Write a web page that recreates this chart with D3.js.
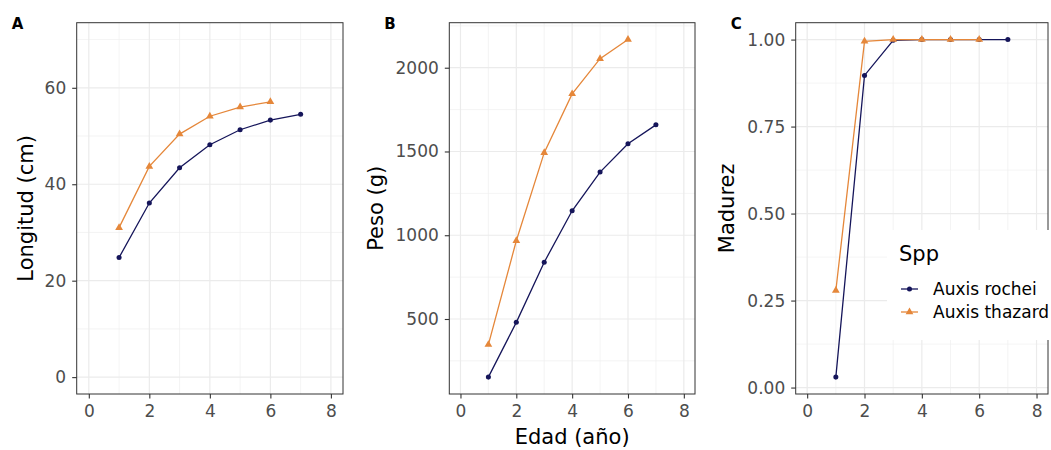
<!DOCTYPE html>
<html>
  <head>
    <meta charset="utf-8">
    <title>Edad, longitud, peso y madurez de Auxis</title>
    <script src="https://d3js.org/d3.v7.min.js"></script>
    <style>
      body { margin: 0; background: #fff; }
      text { font-family: "DejaVu Sans", sans-serif; }
    </style>
  </head>
  <body>
    <script>
        // data
        var species = ["Auxis rochei", "Auxis thazard"]
        var colors = ["#15155a", "#e5873a"]
        var agesRochei = [1, 2, 3, 4, 5, 6, 7]
        var agesThazard = [1, 2, 3, 4, 5, 6]
        var lenRochei = [24.8, 36.1, 43.4, 48.2, 51.3, 53.3, 54.5]
        var lenThazard = [31.0, 43.7, 50.4, 54.1, 56.0, 57.1]
        var wtRochei = [153, 480, 839, 1146, 1377, 1546, 1659]
        var wtThazard = [347, 967, 1493, 1844, 2054, 2168]
        var matRochei = [0.03, 0.897, 0.998, 1, 1, 1, 1]
        var matThazard = [0.279, 0.995, 1, 1, 1, 1]
        var xTicks = [0, 2, 4, 6, 8]
        var xMinor = [1, 3, 5, 7]

        var width = 1051, height = 450
        var plotTop = 22.7, plotBottom = 394

        var svg = d3.select("body").append("svg")
            .attr("width", width)
            .attr("height", height)

        var panels = [
          {label: "A", left: 76.7, right: 343, title: "Longitud (cm)", titleX: 33,
           y: [lenRochei, lenThazard], limits: [0, 70],
           ticks: [0, 20, 40, 60], minor: [10, 30, 50, 70], fmt: d3.format("d")},
          {label: "B", left: 449.3, right: 695, title: "Peso (g)", titleX: 382.5,
           y: [wtRochei, wtThazard], limits: null,
           ticks: [500, 1000, 1500, 2000], minor: [250, 750, 1250, 1750, 2250], fmt: d3.format("d")},
          {label: "C", left: 795.7, right: 1048, title: "Madurez", titleX: 734,
           y: [matRochei, matThazard], limits: null,
           ticks: [0, 0.25, 0.5, 0.75, 1], minor: [0.125, 0.375, 0.625, 0.875], fmt: d3.format(".2f")}
        ]
        var ages = [agesRochei, agesThazard]

        panels.forEach(function(p) {
          var lim = p.limits || d3.extent(d3.merge(p.y))
          var pad = (lim[1] - lim[0]) * 0.05
          var y = d3.scaleLinear().domain([lim[0] - pad, lim[1] + pad]).range([plotBottom, plotTop])
          var x = d3.scaleLinear().domain([-0.4, 8.4]).range([p.left, p.right])

          var g = svg.append("g")
          g.append("rect")
            .attr("x", p.left).attr("y", plotTop)
            .attr("width", p.right - p.left).attr("height", plotBottom - plotTop)
            .attr("fill", "#fff")

          // grid
          g.selectAll(".vminor").data(xMinor).enter().append("line")
            .attr("x1", d => x(d)).attr("x2", d => x(d))
            .attr("y1", plotTop).attr("y2", plotBottom)
            .attr("stroke", "#efefef").attr("stroke-width", 0.7)
          g.selectAll(".hminor").data(p.minor.filter(d => y(d) > plotTop && y(d) < plotBottom)).enter().append("line")
            .attr("x1", p.left).attr("x2", p.right)
            .attr("y1", d => y(d)).attr("y2", d => y(d))
            .attr("stroke", "#efefef").attr("stroke-width", 0.7)
          g.selectAll(".vmajor").data(xTicks).enter().append("line")
            .attr("x1", d => x(d)).attr("x2", d => x(d))
            .attr("y1", plotTop).attr("y2", plotBottom)
            .attr("stroke", "#ebebeb").attr("stroke-width", 1.2)
          g.selectAll(".hmajor").data(p.ticks).enter().append("line")
            .attr("x1", p.left).attr("x2", p.right)
            .attr("y1", d => y(d)).attr("y2", d => y(d))
            .attr("stroke", "#ebebeb").attr("stroke-width", 1.2)

          // axes
          var xa = g.append("g")
            .attr("transform", "translate(0," + plotBottom + ")")
            .call(d3.axisBottom(x).tickValues(xTicks).tickSize(4.5).tickPadding(6))
          var ya = g.append("g")
            .attr("transform", "translate(" + p.left + ",0)")
            .call(d3.axisLeft(y).tickValues(p.ticks).tickFormat(p.fmt).tickSize(4.5).tickPadding(6))
          ;[xa, ya].forEach(function(a) {
            a.select(".domain").remove()
            a.selectAll("line").attr("stroke", "#333").attr("stroke-width", 1.1)
            a.selectAll("text").attr("fill", "#4d4d4d").style("font-size", "17px")
          })

          // series
          species.forEach(function(s, i) {
            var pts = ages[i].map((a, j) => [a, p.y[i][j]])
            g.append("path")
              .datum(pts)
              .attr("fill", "none")
              .attr("stroke", colors[i])
              .attr("stroke-width", 1.3)
              .attr("d", d3.line().x(d => x(d[0])).y(d => y(d[1])))
            g.selectAll(".pt" + i).data(pts).enter().append("path")
              .attr("transform", d => "translate(" + x(d[0]) + "," + y(d[1]) + ")")
              .attr("d", d3.symbol().type(i === 0 ? d3.symbolCircle : d3.symbolTriangle).size(i === 0 ? 20 : 26))
              .attr("fill", colors[i])
          })

          g.append("rect")
            .attr("x", p.left).attr("y", plotTop)
            .attr("width", p.right - p.left).attr("height", plotBottom - plotTop)
            .attr("fill", "none").attr("stroke", "#333").attr("stroke-width", 1)

          // titles
          g.append("text")
            .attr("transform", "translate(" + p.titleX + "," + (plotTop + plotBottom) / 2 + ") rotate(-90)")
            .attr("text-anchor", "middle")
            .style("font-size", "21px")
            .text(p.title)
          svg.append("text")
            .attr("x", p.left - 65).attr("y", 29)
            .style("font-size", "15px").style("font-weight", "bold")
            .text(p.label)
        })

        svg.append("text")
          .attr("x", (panels[1].left + panels[1].right) / 2)
          .attr("y", 444)
          .attr("text-anchor", "middle")
          .style("font-size", "21px")
          .text("Edad (año)")

        // legend
        var lg = svg.append("g").attr("transform", "translate(887,230)")
        lg.append("rect").attr("width", 170).attr("height", 110).attr("fill", "#fff")
        lg.append("text").attr("x", 12).attr("y", 31).style("font-size", "21px").text("Spp")
        species.forEach(function(s, i) {
          var row = lg.append("g").attr("transform", "translate(0," + (59 + i * 23) + ")")
          row.append("line").attr("x1", 14).attr("x2", 31)
            .attr("stroke", colors[i]).attr("stroke-width", 1.3)
          row.append("path")
            .attr("transform", "translate(22.5,0)")
            .attr("d", d3.symbol().type(i === 0 ? d3.symbolCircle : d3.symbolTriangle).size(i === 0 ? 20 : 26))
            .attr("fill", colors[i])
          row.append("text").attr("x", 46).attr("dy", "0.35em")
            .style("font-size", "17px").text(s)
        })
    </script>
  </body>
</html>
